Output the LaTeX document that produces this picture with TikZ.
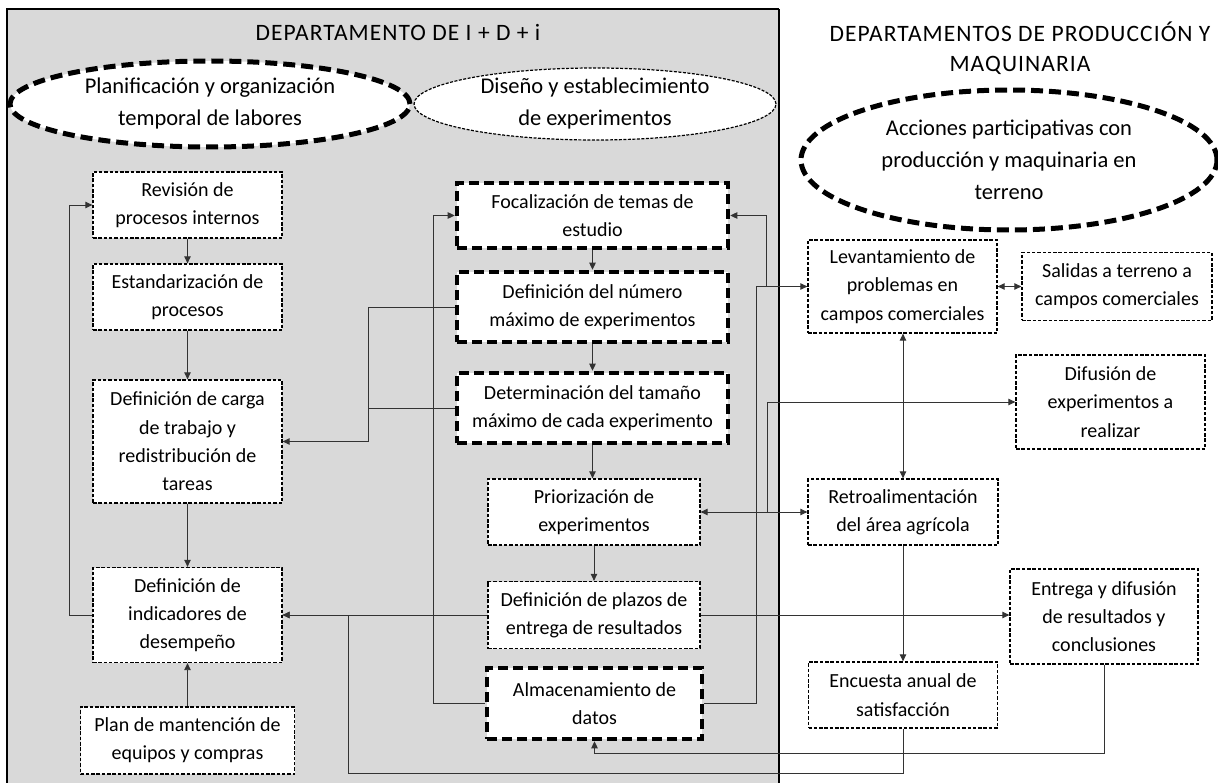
\documentclass[tikz,border=0pt]{standalone}
\usepackage{fontspec}
\setmainfont{Carlito}
\newfontfamily\titlefont[LetterSpace=4.5]{Carlito}
\usetikzlibrary{arrows.meta,shapes.geometric,calc}
\begin{document}
\begin{tikzpicture}[x=1pt,y=-1pt,
  every node/.style={font=\fontsize{20}{28.3}\selectfont, align=center, inner sep=0pt},
  thinbox/.style={draw=black, fill=white, line width=1.3pt, dash pattern=on 3.5pt off 1.8pt},
  thickbox/.style={draw=black, fill=white, line width=4.6pt, dash pattern=on 10pt off 5pt},
  thickell/.style={ellipse, draw=black, fill=white, line width=5pt, dash pattern=on 12pt off 6pt, inner sep=-12pt, font=\fontsize{22.5}{32}\selectfont},
  thinell/.style={ellipse, draw=black, fill=white, line width=1.2pt, dash pattern=on 3pt off 1.5pt, inner sep=-12pt, font=\fontsize{22.5}{32}\selectfont},
  conn/.style={line width=0.9pt, draw=black!80},
  arr/.style={conn, -{Triangle[length=7pt,width=6.5pt]}},
  darr/.style={conn, {Triangle[length=7pt,width=6.5pt]}-{Triangle[length=7pt,width=6.5pt]}},
  titlestyle/.style={font=\titlefont\fontsize{23.5}{30}\selectfont}
]
\useasboundingbox (0,0) rectangle (1218,783);
% grey panel
\fill[black!15] (7,9) rectangle (779,783);
\draw[line width=1.3pt] (7,783) -- (7,9) -- (779,9);
\draw[line width=2pt] (779,9) -- (779,783);

% titles
\node[titlestyle, anchor=base] (t1) at (398,41) {DEPARTAMENTO DE I + D + i};
\node[titlestyle] (t2) at (1020,48) {DEPARTAMENTOS DE PRODUCCIÓN Y\\MAQUINARIA};

% ellipses
\node[thickell, minimum width=400pt, minimum height=86pt] (e1) at (210,104) {Planificación y organización\\temporal de labores};
\node[thinell, minimum width=362pt, minimum height=72pt] (e2) at (595,104) {Diseño y establecimiento\\de experimentos};
\node[thickell, minimum width=416pt, minimum height=140pt] (e3) at (1009,160) {Acciones participativas con\\producción y maquinaria en\\terreno};

% left column
\node[thinbox, minimum width=189pt, minimum height=66pt] (rev) at (187.5,205) {Revisión de\\procesos internos};
\node[thinbox, minimum width=189pt, minimum height=66pt] (est) at (187.5,297) {Estandarización de\\procesos};
\node[thinbox, minimum width=189pt, minimum height=123pt] (carga) at (187.5,441.5) {Definición de carga\\de trabajo y\\redistribución de\\tareas};
\node[thinbox, minimum width=189pt, minimum height=95pt] (ind) at (187.5,615) {Definición de\\indicadores de\\desempeño};
\node[thinbox, minimum width=214pt, minimum height=67pt] (plan) at (187.5,740.5) {Plan de mantención de\\equipos y compras};

% middle column
\node[thickbox, minimum width=271pt, minimum height=65pt] (foc) at (592.5,215.5) {Focalización de temas de\\estudio};
\node[thickbox, minimum width=271pt, minimum height=70pt] (num) at (592.5,307) {Definición del número\\máximo de experimentos};
\node[thickbox, minimum width=271pt, minimum height=70pt] (det) at (592.5,408) {Determinación del tamaño\\máximo de cada experimento};
\node[thinbox, minimum width=212pt, minimum height=66pt] (pri) at (594,512) {Priorización de\\experimentos};
\node[thinbox, minimum width=212pt, minimum height=67pt] (pla) at (594,615) {Definición de plazos de\\entrega de resultados};
\node[thickbox, minimum width=215pt, minimum height=71pt] (alm) at (594.5,703.5) {Almacenamiento de\\datos};

% right column
\node[thinbox, minimum width=189pt, minimum height=93pt] (lev) at (902.5,286.5) {Levantamiento de\\problemas en\\campos comerciales};
\node[thinbox, minimum width=190pt, minimum height=68pt] (sal) at (1117,286.5) {Salidas a terreno a\\campos comerciales};
\node[thinbox, minimum width=189pt, minimum height=94pt] (dif) at (1110.5,402) {Difusión de\\experimentos a\\realizar};
\node[thinbox, minimum width=190pt, minimum height=66pt] (ret) at (903,512) {Retroalimentación\\del área agrícola};
\node[thinbox, minimum width=188pt, minimum height=95pt] (ent) at (1104,616.5) {Entrega y difusión\\de resultados y\\conclusiones};
\node[thinbox, minimum width=189pt, minimum height=66pt] (enc) at (903,695) {Encuesta anual de\\satisfacción};

% left column connectors
\draw[arr] (rev.south) -- (est.north);
\draw[arr] (est.south) -- (carga.north);
\draw[arr] (carga.south) -- (ind.north);
\draw[arr] (plan.north) -- (ind.south);
\draw[arr] (ind.west) -- ++(-23,0) |- (rev.west);

% middle column connectors
\draw[arr] (foc.south) -- (num.north);
\draw[arr] (num.south) -- (det.north);
\draw[arr] (det.south) -- (det.south |- pri.north);
\draw[arr] (pri.south) -- (pla.north);
\draw[arr] (num.west) -- ++(-86,0) |- (carga.east);
\draw[conn] (det.west) -- ++(-86,0);
\draw[arr] (alm.west) -- ++(-51,0) |- (foc.west);
\draw[arr] (alm.east) -- ++(52,0) |- (lev.west);
\draw[arr] ($(lev.west)+(-41,0)$) |- (foc.east);
\draw[darr] (pri.east) -- (pri.east -| ret.west);
\draw[arr] ($(pri.east)+(67,0)$) |- (dif.west);
\draw[arr] (pla.west) -- (ind.east);
\draw[arr] (pla.east) -- (pla.east -| ent.west);

% right column connectors
\draw[darr] (lev.east) -- (lev.east -| sal.west);
\draw[darr] (ret.north) -- (ret.north |- lev.south);
\draw[arr] (ret.south) -- (ret.south |- enc.north);
\draw[arr] (enc.south) -- ++(0,45) -| ($(ind.east)+(66,0)$) -- (ind.east);
\draw[arr] (ent.south) -- ++(0,89) -| (alm.south);
\end{tikzpicture}
\end{document}
